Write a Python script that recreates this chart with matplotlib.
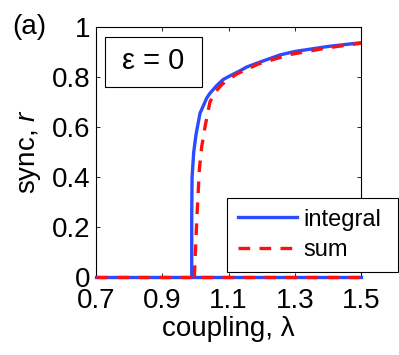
import matplotlib
matplotlib.use("Agg")
import matplotlib.pyplot as plt
from matplotlib.patches import Rectangle

plt.rcParams['font.family'] = ['Liberation Sans', 'DejaVu Sans']
plt.rcParams['mathtext.fontset'] = 'custom'
plt.rcParams['mathtext.rm'] = 'Liberation Sans'
plt.rcParams['mathtext.it'] = 'Liberation Sans:italic'

# incoherent branch (r = 0) over the whole range
lam_zero = [0.7, 1.5]
r_zero = [0.0, 0.0]

# synchronized branch, integral (continuum) theory
lam_int = [0.989, 0.989, 0.990, 0.995, 1.002, 1.014, 1.034, 1.044, 1.064, 1.084,
           1.105, 1.135, 1.155, 1.200, 1.255, 1.300, 1.400, 1.500]
r_int = [0.0, 0.25, 0.40, 0.50, 0.57, 0.655, 0.715, 0.735, 0.765, 0.790,
         0.805, 0.825, 0.840, 0.862, 0.888, 0.902, 0.922, 0.937]

# synchronized branch, finite sum
lam_sum = [0.997, 1.000, 1.005, 1.012, 1.019, 1.029, 1.044, 1.060, 1.080, 1.100,
           1.125, 1.190, 1.286, 1.406, 1.500]
r_sum = [0.0, 0.10, 0.25, 0.43, 0.52, 0.60, 0.70, 0.74, 0.77, 0.79,
         0.812, 0.852, 0.890, 0.918, 0.935]

x_ticks = [0.7, 0.9, 1.1, 1.3, 1.5]
y_ticks = [0, 0.2, 0.4, 0.6, 0.8, 1]

blue = '#2a4bff'
red = '#ff1010'
dash = (0, (3.5, 2.8))

fig = plt.figure(figsize=(3.99, 3.55), dpi=100)
ax = fig.add_axes([0.2406, 0.2197, 0.6642, 0.7043])

ax.plot(lam_zero, r_zero, color=blue, lw=2.4, clip_on=False, zorder=3)
ax.plot(lam_int, r_int, color=blue, lw=2.4, label='integral', zorder=3)
ax.plot(lam_zero, r_zero, color=red, lw=2.4, ls=dash, clip_on=False, zorder=4)
ax.plot(lam_sum, r_sum, color=red, lw=2.4, ls=dash, label='sum', zorder=4)

ax.set_xlim(0.7, 1.5)
ax.set_ylim(0, 1)
ax.set_xticks(x_ticks)
ax.set_xticklabels([f'{t:g}' for t in x_ticks])
ax.set_yticks(y_ticks)
ax.set_yticklabels([f'{t:g}' for t in y_ticks])
ax.tick_params(direction='in', length=3, width=0.6, top=True, right=True,
               labelsize=20)
ax.tick_params(axis='y', pad=4)
ax.tick_params(axis='x', pad=8)
for s in ax.spines.values():
    s.set_linewidth(0.8)

ax.set_xlabel('coupling, λ', fontsize=20, labelpad=1)
ax.set_ylabel('sync, $\\it{r}$', fontsize=20, labelpad=6)

# parameter box
ax.add_patch(Rectangle((0.034, 0.76), 0.366, 0.20, transform=ax.transAxes,
                       fc='white', ec='black', lw=0.8, zorder=5))
ax.text(0.217, 0.862, 'ε = 0', transform=ax.transAxes, fontsize=21,
        va='center', ha='center', zorder=6)

# legend box spans past the right spine, as in the original
leg = ax.legend(loc='upper left',
                bbox_to_anchor=(227 / 399, 1 - 271 / 355, 171 / 399, 73 / 355),
                bbox_transform=fig.transFigure, mode='expand', fontsize=17,
                frameon=True, fancybox=False, edgecolor='black', framealpha=1,
                handlelength=2.5, borderaxespad=0.0, borderpad=0.45,
                labelspacing=0.35, handletextpad=0.3)
leg.get_frame().set_linewidth(0.8)
leg.set_zorder(6)

fig.text(0.03, 0.923, '(a)', fontsize=20, va='center', ha='left')

fig.savefig('out.png', dpi=100)
